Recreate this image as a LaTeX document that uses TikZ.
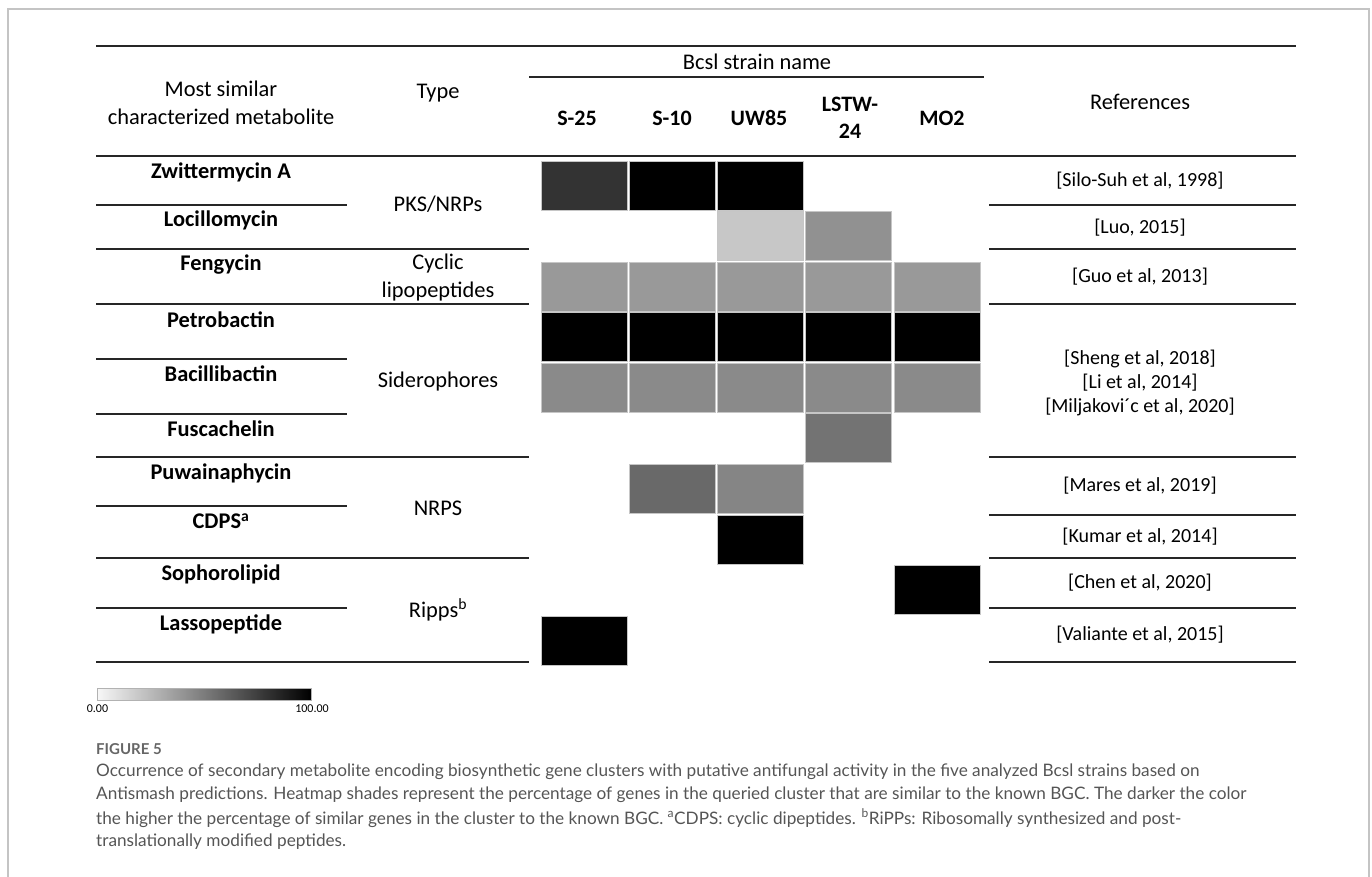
\documentclass[tikz,border=0pt]{standalone}
\usepackage{fontspec}
\setmainfont{Carlito}
\newfontfamily\capfont{Lato}
\usetikzlibrary{positioning}
\definecolor{framegray}{HTML}{C4C4C4}
\definecolor{capgray}{HTML}{555555}
\definecolor{figgray}{HTML}{666666}
\begin{document}
\begin{tikzpicture}[x=1pt,y=-1pt,
	rule/.style={line width=1.4pt,black!85},
	hd/.style={font=\fontsize{22.4}{28}\selectfont,align=center,inner sep=0pt},
	strain/.style={font=\fontsize{22}{27}\selectfont\bfseries,align=center,inner sep=0pt},
	met/.style={font=\fontsize{22.4}{27}\selectfont\bfseries,inner sep=0pt},
	ref/.style={font=\fontsize{20}{24}\selectfont,align=center,inner sep=0pt},
	cell/.style={minimum width=86pt,minimum height=49pt,inner sep=0pt,draw=gray!45,line width=0.6pt},
	capline/.style={font=\capfont\fontsize{17.2}{23}\selectfont,text=capgray,anchor=west,inner sep=0pt}]
	\useasboundingbox (0,0) rectangle (1372,877);
	\draw[framegray,line width=1.6pt] (8,877) |- (1369,9) -- (1369,877);
	\draw[rule] (96,46)--(1296,46) (96,156)--(1296,156) (529,77)--(984,77);
	\foreach \yy in {249,304,457,558,662}\draw[rule] (96,\yy)--(529,\yy);
	\foreach \yy in {205,359,414,506,608}\draw[rule] (96,\yy)--(347,\yy);
	\foreach \yy in {205,249,304,457,515,558,608,662}\draw[rule] (989,\yy)--(1296,\yy);
	\node[hd] (hmet) at (221,103) {Most similar\\characterized metabolite};
	\node[hd] (htype) at (438,93) {Type};
	\node[hd] (hbcsl) at (757,62) {Bcsl strain name};
	\node[hd] (href) at (1140,102) {References};
	\foreach \n/\t/\xx in {s25/S-25/577,s10/S-10/672,uw/UW85/759,lstw/LSTW-\\24/850,mo/MO2/942}
		\node[strain] (\n) at (\xx,118) {\t};
	\foreach \n/\t/\yy in {zwi/Zwittermycin A/172,loc/Locillomycin/220,fen/Fengycin/265,pet/Petrobactin/320,bac/Bacillibactin/374,fus/Fuscachelin/429,puw/Puwainaphycin/473,cdps/CDPS\textsuperscript{a}/521,sop/Sophorolipid/574,las/Lassopeptide/624}
		\node[met] (\n) at (221,\yy) {\t};
	\foreach \n/\t/\yy in {pks/{PKS/NRPs}/204,cyc/Cyclic\\lipopeptides/278,sid/Siderophores/382,nrps/NRPS/508,ripps/Ripps\textsuperscript{b}/610}
		\node[hd] (\n) at (438,\yy) {\t};
	\foreach \n/\t/\yy in {rsilo/{[Silo-Suh et al, 1998]}/181,rluo/{[Luo, 2015]}/228,rguo/{[Guo et al, 2013]}/277,rmar/{[Mares et al, 2019]}/486,rkum/{[Kumar et al, 2014]}/537,rche/{[Chen et al, 2020]}/583,rval/{[Valiante et al, 2015]}/635}
		\node[ref] (\n) at (1140,\yy) {\t};
	\node[ref] (rsid) at (1140,383) {[Sheng et al, 2018]\\ {[Li et al, 2014]}\\ {[Miljakovi´c et al, 2020]}};
	\foreach \r/\c/\k in {0/0/80,0/1/100,0/2/100,1/2/22,1/3/43,2/0/40,2/1/40,2/2/40,2/3/40,2/4/40,3/0/100,3/1/100,3/2/100,3/3/100,3/4/100,4/0/46,4/1/46,4/2/46,4/3/46,4/4/46,5/3/55,6/1/59,6/2/48,7/2/100,8/4/100,9/0/100}
		\node[cell,fill=black!\k] (cell\r\c) at (584+88.2*\c,185.5+50.55*\r) {};
	\shade[left color=black!3,right color=black,draw=gray!60,line width=0.5pt] (97,688) rectangle (311,700);
	\node[font=\fontsize{12}{14}\selectfont,inner sep=0pt] (lo) at (97.5,709) {0.00};
	\node[font=\fontsize{12}{14}\selectfont,inner sep=0pt] (hi) at (312,709) {100.00};
	\node[font=\capfont\bfseries\fontsize{15}{18}\selectfont,text=figgray,anchor=west,inner sep=0pt] (fig) at (96,749) {FIGURE 5};
	\node[capline] (l1) at (96,772) {Occurrence of secondary metabolite encoding biosynthetic gene clusters with putative antifungal activity in the five analyzed Bcsl strains based on};
	\node[capline] (l2) at (96,795) {Antismash predictions. Heatmap shades represent the percentage of genes in the queried cluster that are similar to the known BGC. The darker the color};
	\node[capline] (l3) at (96,818) {the higher the percentage of similar genes in the cluster to the known BGC. \textsuperscript{a}CDPS: cyclic dipeptides. \textsuperscript{b}RiPPs: Ribosomally synthesized and post-};
	\node[capline] (l4) at (96,842) {translationally modified peptides.};
\end{tikzpicture}
\end{document}
